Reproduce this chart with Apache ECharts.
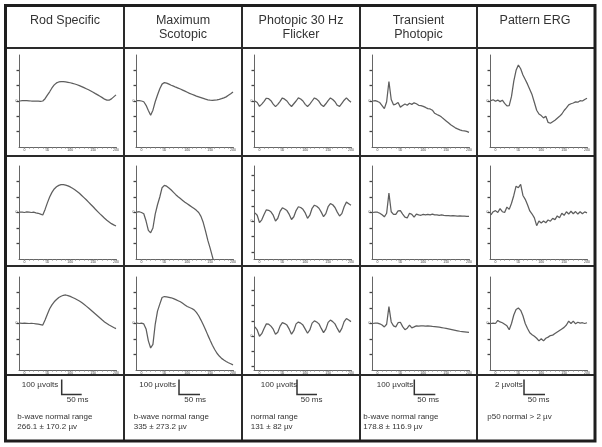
<!DOCTYPE html>
<html><head><meta charset="utf-8">
<script src="https://cdn.jsdelivr.net/npm/echarts@6/dist/echarts.min.js"></script>
<style>html,body{margin:0;padding:0;background:#fff}#c{width:602px;height:447px}</style>
</head><body><div id="c"></div>
<script>
// ---- Data ----
const headers = [["Rod Specific"], ["Maximum", "Scotopic"], ["Photopic 30 Hz", "Flicker"], ["Transient", "Photopic"], ["Pattern ERG"]];
const scaleVolts = ["100 \u00b5volts", "100 \u00b5volts", "100 \u00b5volts", "100 \u00b5volts", "2 \u00b5volts"];
const scaleTime = ["50 ms", "50 ms", "50 ms", "50 ms", "50 ms"];
const normalLine1 = ["b-wave normal range", "b-wave normal range", "normal range", "b-wave normal range", "p50 normal > 2 \u00b5v"];
const normalLine2 = ["266.1 \u00b1 170.2 \u00b5v", "335 \u00b1 273.2 \u00b5v", "131 \u00b1 82 \u00b5v", "178.8 \u00b1 116.9 \u00b5v", ""];
const xTickLabels = [0, 50, 100, 150, 200];
const yTickValues = [-2, -1, 0, 1, 2];

const timeMs = [-10,-5,0,5,10,15,20,25,30,35,40,45,50,55,60,65,70,75,80,85,90,95,100,105,110,115,120,125,130,135,140,145,150,155,160,165,170,175,180,185,190,195,200];

const rodRow1 = [0,0.02,0.02,0.02,0.01,0,0,0,-0.01,-0.02,0.0,0.15,0.38,0.6,0.85,1.05,1.18,1.24,1.27,1.27,1.25,1.22,1.19,1.15,1.11,1.06,1.0,0.94,0.87,0.8,0.73,0.65,0.57,0.48,0.4,0.31,0.22,0.12,0.06,0.05,0.14,0.27,0.4];
const rodRow2 = [0.02,0.03,0.0,0.04,0.02,0.0,0.02,-0.02,-0.05,-0.1,-0.16,0.2,0.62,1.0,1.3,1.52,1.66,1.75,1.8,1.8,1.77,1.72,1.65,1.56,1.47,1.36,1.24,1.1,0.96,0.82,0.67,0.52,0.37,0.21,0.06,-0.09,-0.23,-0.37,-0.5,-0.61,-0.72,-0.8,-0.87];
const rodRow3 = [0.02,0.01,0.02,0.01,0.0,0.01,0.0,-0.02,-0.04,-0.07,-0.1,0.22,0.6,0.95,1.2,1.4,1.55,1.68,1.76,1.82,1.84,1.8,1.75,1.68,1.61,1.53,1.45,1.35,1.24,1.12,1.0,0.87,0.74,0.61,0.48,0.35,0.22,0.1,0.0,-0.1,-0.18,-0.26,-0.33];

const maxRow1 = [0.02,0.02,0.0,-0.05,-0.28,-0.62,-0.93,-0.6,-0.05,0.39,0.8,1.1,1.2,1.17,1.1,1.03,0.97,0.9,0.84,0.78,0.71,0.64,0.57,0.5,0.44,0.38,0.32,0.27,0.22,0.17,0.12,0.08,0.05,0.04,0.06,0.08,0.11,0.15,0.2,0.27,0.37,0.47,0.58];
const maxRow2 = [0.03,0.05,0.0,-0.08,-0.55,-1.15,-1.31,-1.0,-0.1,0.5,1.0,1.6,1.75,1.7,1.58,1.45,1.3,1.15,1.02,0.9,0.78,0.66,0.56,0.46,0.36,0.26,0.14,0.0,-0.25,-0.65,-1.2,-1.8,-2.3,-2.85,-3.4,null,null,null,null,null,null,null,null];
const maxRow3 = [0.02,0.0,0.02,-0.03,-0.35,-1.12,-1.58,-1.35,-0.05,0.8,1.25,1.68,1.74,1.72,1.69,1.66,1.6,1.54,1.47,1.4,1.3,1.2,1.1,1.03,0.97,0.88,0.72,0.5,0.22,-0.08,-0.4,-0.75,-1.08,-1.4,-1.68,-1.92,-2.1,-2.25,-2.36,-2.45,-2.53,-2.6,-2.67];

const flickRow1 = [0.0,-0.1,-0.35,-0.2,-0.02,0.18,0.15,0.02,-0.2,-0.37,-0.22,-0.02,0.2,0.12,0.0,-0.2,-0.36,-0.18,0.0,0.2,0.13,0.0,-0.22,-0.36,-0.2,0.0,0.2,0.12,-0.02,-0.25,-0.36,-0.18,0.02,0.2,0.1,-0.05,-0.28,-0.35,-0.15,0.05,0.2,0.05,-0.08];
const flickRow2 = [0.55,0.4,-0.08,0.1,0.45,0.75,0.72,0.62,0.4,0.02,0.2,0.65,0.88,0.8,0.7,0.45,0.12,0.3,0.7,0.95,0.9,0.78,0.55,0.2,0.4,0.85,1.05,0.98,0.85,0.6,0.3,0.5,0.95,1.15,1.08,0.9,0.6,0.35,0.5,0.95,1.25,1.15,1.05];
const flickRow3 = [0.6,0.4,-0.02,0.15,0.5,0.8,0.78,0.65,0.45,0.12,0.25,0.65,0.88,0.82,0.72,0.45,0.12,0.35,0.8,0.92,0.85,0.72,0.45,0.18,0.4,0.85,1.0,0.92,0.8,0.5,0.22,0.45,0.9,1.05,0.95,0.8,0.5,0.24,0.5,0.95,1.15,1.05,0.95];

const transRow1 = [0.0,0.02,-0.03,-0.1,-0.3,-0.5,-0.05,1.27,0.1,-0.25,-0.2,-0.1,-0.4,-0.3,-0.2,-0.28,-0.15,-0.22,-0.12,-0.18,-0.28,-0.3,-0.35,-0.42,-0.5,-0.52,-0.6,-0.8,-0.88,-0.95,-1.05,-1.18,-1.3,-1.42,-1.55,-1.65,-1.75,-1.82,-1.88,-1.93,-1.95,-1.98,-2.05];
const transRow2 = [0.0,0.03,0.02,-0.05,-0.15,-0.28,-0.05,1.25,0.05,-0.12,-0.12,0.1,0.12,-0.1,-0.3,-0.35,-0.05,-0.12,-0.3,-0.1,-0.15,-0.18,-0.12,-0.15,-0.12,-0.15,-0.1,-0.15,-0.15,-0.18,-0.15,-0.18,-0.2,-0.2,-0.22,-0.2,-0.22,-0.24,-0.22,-0.24,-0.24,-0.25,-0.25];
const transRow3 = [0.0,0.02,0.03,-0.02,-0.1,-0.22,-0.05,1.09,0.1,-0.15,-0.22,0.05,0.08,-0.2,-0.4,-0.3,-0.1,-0.28,-0.22,-0.15,-0.17,-0.15,-0.15,-0.17,-0.16,-0.17,-0.19,-0.2,-0.22,-0.24,-0.26,-0.29,-0.32,-0.35,-0.38,-0.41,-0.44,-0.47,-0.5,-0.52,-0.54,-0.56,-0.58];

const pergRow1 = [0.02,0.08,-0.02,0.06,-0.04,0.05,-0.15,-0.32,-0.3,0.3,1.3,2.0,2.35,2.1,1.7,1.4,1.1,0.75,0.4,-0.1,-0.6,-0.85,-0.95,-1.1,-1.0,-1.4,-1.45,-1.35,-1.25,-1.12,-1.0,-0.85,-0.62,-0.45,-0.25,-0.18,-0.13,-0.06,-0.08,0.02,0.0,0.1,0.18];
const pergRow2 = [-0.15,0.05,0.12,0.0,0.25,0.05,0.0,0.35,0.2,0.6,1.1,1.7,1.6,1.82,1.1,0.85,0.5,0.1,-0.1,-0.35,-0.85,-0.55,-0.68,-0.55,-0.66,-0.48,-0.56,-0.38,-0.46,-0.22,-0.34,-0.05,-0.18,0.05,-0.1,0.08,-0.08,0.06,-0.1,0.05,-0.08,0.04,-0.02];
const pergRow3 = [0.0,0.02,0.0,0.2,0.1,0.05,-0.05,-0.15,-0.4,0.0,0.55,0.9,1.0,0.85,0.5,0.0,-0.32,-0.6,-0.72,-0.82,-0.95,-1.12,-0.98,-1.12,-0.95,-0.88,-0.78,-0.75,-0.65,-0.55,-0.45,-0.35,-0.25,-0.1,0.15,0.0,0.15,-0.02,0.08,0.02,0.05,0.0,0.05];

const traces = [
  [rodRow1, maxRow1, flickRow1, transRow1, pergRow1],
  [rodRow2, maxRow2, flickRow2, transRow2, pergRow2],
  [rodRow3, maxRow3, flickRow3, transRow3, pergRow3]
];

// ---- Layout ----
const colLefts = [19, 136, 254, 372, 490];
const colCenters = [65, 183, 301, 418.5, 535];
const rowTops = [55, 166, 277];
const rowHeights = [92, 93, 93];
const panelWidth = 97;
const FONT = '"Liberation Sans", Arial, sans-serif';

function yRange(r, c) {
  if (c === 2 && r === 1) return { min: -2.45, max: 3.6, ticks: [-2, -1, 0, 1, 2, 3] };
  if (c === 2 && r === 2) return { min: -2.25, max: 3.9, ticks: [-2, -1, 0, 1, 2, 3] };
  return { min: -3, max: 3, ticks: yTickValues };
}

const grids = [], xAxes = [], yAxes = [], series = [];
const minorTicks = [];
for (let t = 0; t <= 200; t += 10) minorTicks.push(t);

for (let r = 0; r < 3; r++) {
  for (let c = 0; c < 5; c++) {
    const idx = r * 5 + c;
    grids.push({ left: colLefts[c], top: rowTops[r], width: panelWidth, height: rowHeights[r], containLabel: false, outerBoundsMode: 'none' });
    xAxes.push({
      type: 'value', gridIndex: idx, min: -12, max: 200,
      axisLine: { show: true, onZero: false, lineStyle: { color: '#666', width: 1 } },
      axisTick: { show: true, customValues: minorTicks, length: 1.5, lineStyle: { color: '#777', width: 1 } },
      axisLabel: { show: true, customValues: xTickLabels, fontSize: 3.5, margin: 1.5, color: '#444', fontFamily: FONT },
      splitLine: { show: false }
    });
    const yr = yRange(r, c);
    yAxes.push({
      type: 'value', gridIndex: idx, min: yr.min, max: yr.max,
      axisLine: { show: true, onZero: false, lineStyle: { color: '#666', width: 1 } },
      axisTick: { show: true, customValues: yr.ticks, length: 2.5, lineStyle: { color: '#444', width: 1.3 } },
      axisLabel: { show: true, customValues: [0], fontSize: 3.5, margin: 1.5, color: '#444', fontFamily: FONT },
      splitLine: { show: false }
    });
    const vals = traces[r][c];
    series.push({
      type: 'line', xAxisIndex: idx, yAxisIndex: idx,
      data: timeMs.map((t, i) => [t, vals[i]]),
      showSymbol: false, symbol: 'none', connectNulls: false, clip: true, silent: true,
      lineStyle: { color: '#5e5e5e', width: 1.25 }
    });
  }
}

// ---- Table frame, headers, footers ----
const graphic = [];
const frameColor = '#2a2a2a';
[124, 242, 360, 477].forEach(x => graphic.push({ type: 'line', shape: { x1: x, y1: 5, x2: x, y2: 441 }, style: { stroke: frameColor, lineWidth: 2 } }));
[48, 156, 266, 375].forEach(y => graphic.push({ type: 'line', shape: { x1: 5, y1: y, x2: 595, y2: y }, style: { stroke: frameColor, lineWidth: 2 } }));
graphic.push({ type: 'rect', shape: { x: 5.5, y: 5.5, width: 589.5, height: 435.5 }, style: { fill: null, stroke: '#1e1e1e', lineWidth: 3 } });

function txt(text, x, y, size, align) {
  return { type: 'text', x: x, y: y, style: { text: text, font: size + 'px ' + FONT, fill: '#333', align: align, verticalAlign: 'middle', textAlign: align, textVerticalAlign: 'middle' } };
}
headers.forEach((lines, c) => {
  lines.forEach((line, k) => graphic.push(txt(line, colCenters[c], 20.5 + k * 14.5, 12.5, 'center')));
});

const voltLeft = [21.7, 139.3, 260.7, 376.7, 495];
const barX = [61.7, 179, 297, 414.3, 524];
const barLen = [20, 21, 20, 21, 21];
const msLeft = [66.7, 184.3, 300.7, 417.3, 527.7];
const normLeft = [17.3, 133.7, 250.7, 363.3, 487.3];
for (let c = 0; c < 5; c++) {
  graphic.push(txt(scaleVolts[c], voltLeft[c], 384.3, 8, 'left'));
  graphic.push({ type: 'polyline', shape: { points: [[barX[c], 379.5], [barX[c], 394.5], [barX[c] + barLen[c], 394.5]] }, style: { stroke: '#333', lineWidth: 1.5, fill: null } });
  graphic.push(txt(scaleTime[c], msLeft[c], 399.8, 8, 'left'));
  graphic.push(txt(normalLine1[c], normLeft[c], 417.2, 8, 'left'));
  if (normalLine2[c]) graphic.push(txt(normalLine2[c], normLeft[c], 426.8, 8, 'left'));
}

const chart = echarts.init(document.getElementById('c'), null, { renderer: 'canvas' });
chart.setOption({
  animation: false,
  backgroundColor: '#fff',
  grid: grids, xAxis: xAxes, yAxis: yAxes, series: series,
  graphic: graphic
});
</script></body></html>
